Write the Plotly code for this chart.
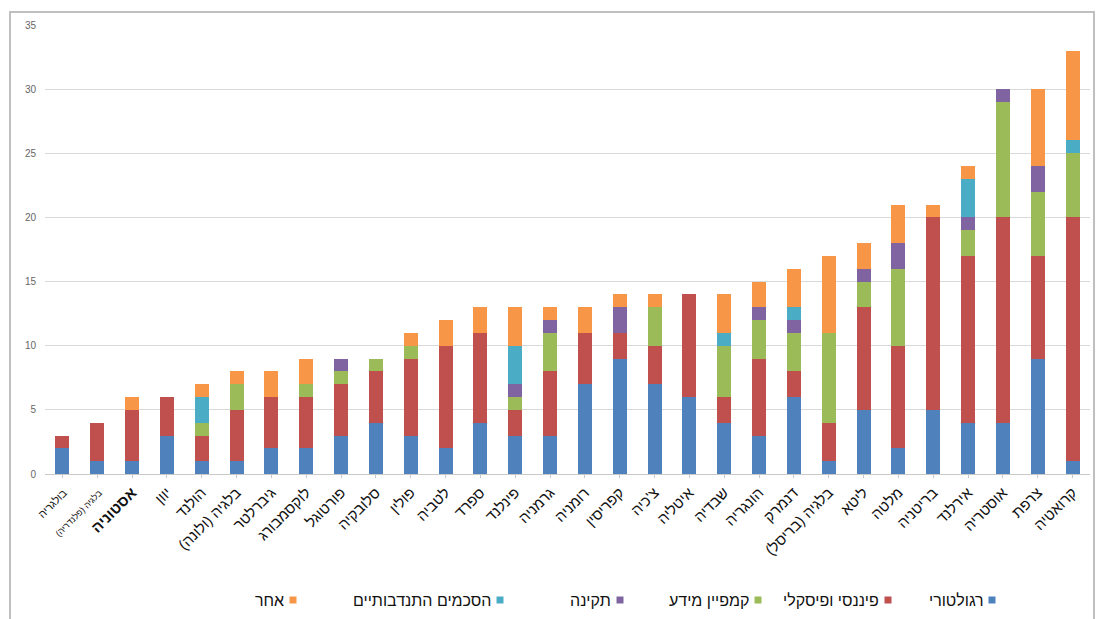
import plotly.graph_objects as go

countries = [
    "בולגריה", "בלגיה (פלנדריה)", "אסטוניה", "יוון", "הולנד", "בלגיה (ולונה)",
    "גיברלטר", "לוקסמבורג", "פורטוגל", "סלובקיה", "פולין", "לטביה", "ספרד",
    "פינלנד", "גרמניה", "רומניה", "קפריסין", "צ'כיה", "איטליה", "שבדיה",
    "הונגריה", "דנמרק", "בלגיה (בריסל)", "ליטא", "מלטה", "בריטניה", "אירלנד",
    "אוסטריה", "צרפת", "קרואטיה",
]

regulatory = [2, 1, 1, 3, 1, 1, 2, 2, 3, 4, 3, 2, 4, 3, 3, 7, 9, 7, 6, 4, 3, 6, 1, 5, 2, 5, 4, 4, 9, 1]
financial = [1, 3, 4, 3, 2, 4, 4, 4, 4, 4, 6, 8, 7, 2, 5, 4, 2, 3, 8, 2, 6, 2, 3, 8, 8, 15, 13, 16, 8, 19]
campaign = [0, 0, 0, 0, 1, 2, 0, 1, 1, 1, 1, 0, 0, 1, 3, 0, 0, 3, 0, 4, 3, 3, 7, 2, 6, 0, 2, 9, 5, 5]
standards = [0, 0, 0, 0, 0, 0, 0, 0, 1, 0, 0, 0, 0, 1, 1, 0, 2, 0, 0, 0, 1, 1, 0, 1, 2, 0, 1, 1, 2, 0]
voluntary = [0, 0, 0, 0, 2, 0, 0, 0, 0, 0, 0, 0, 0, 3, 0, 0, 0, 0, 0, 1, 0, 1, 0, 0, 0, 0, 3, 0, 0, 1]
other = [0, 0, 1, 0, 1, 1, 2, 2, 0, 0, 1, 2, 2, 3, 1, 2, 1, 1, 0, 3, 2, 3, 6, 2, 3, 1, 1, 0, 6, 7]

series_names = ["רגולטורי", "פיננסי ופיסקלי", "קמפיין מידע", "תקינה", "הסכמים התנדבותיים", "אחר"]
series_values = [regulatory, financial, campaign, standards, voluntary, other]
series_colors = ["#4F81BD", "#C0504D", "#9BBB59", "#8064A2", "#4BACC6", "#F79646"]

y_ticks = [0, 5, 10, 15, 20, 25, 30, 35]

# figure geometry (pixels) used to place the right-to-left legend
W, H = 1097, 619
ML, MR, MT, MB = 45, 7, 25, 145
PW, PH = W - ML - MR, H - MT - MB


def px_x(p):
    return (p - ML) / PW


def px_y(p):
    return (H - MB - p) / PH


# tick label styling: a few labels are set smaller / bolder
tick_text = []
for c in countries:
    if c == "בולגריה":
        tick_text.append(f"<span style='font-size:11px'>{c}</span>")
    elif c == "בלגיה (פלנדריה)":
        tick_text.append(f"<span style='font-size:9px'>{c}</span>")
    elif c == "אסטוניה":
        tick_text.append(f"<b>{c}</b>")
    else:
        tick_text.append(c)

fig = go.Figure()
for name, vals, color in zip(series_names, series_values, series_colors):
    fig.add_trace(go.Bar(
        x=countries, y=vals, name=name,
        marker=dict(color=color, line=dict(width=0)),
        showlegend=False,
    ))

# legend: text on the left of each swatch, read right to left
legend_swatch_px = [992, 888, 758, 620, 500, 293]
legend_y_px = 600
shapes = [dict(
    type="rect", xref="paper", yref="paper",
    x0=px_x(10), x1=px_x(1094), y0=px_y(640), y1=px_y(12),
    line=dict(color="#bfbfbf", width=2),
    fillcolor="rgba(0,0,0,0)", layer="below",
)]
annotations = []
for name, color, sx in zip(series_names, series_colors, legend_swatch_px):
    shapes.append(dict(
        type="rect", xref="paper", yref="paper",
        x0=px_x(sx - 3.5), x1=px_x(sx + 3.5),
        y0=px_y(legend_y_px + 3.5), y1=px_y(legend_y_px - 3.5),
        fillcolor=color, line=dict(width=0),
    ))
    annotations.append(dict(
        xref="paper", yref="paper",
        x=px_x(sx - 7), y=px_y(legend_y_px),
        xanchor="right", yanchor="middle",
        text=name, showarrow=False,
        font=dict(size=16, color="#111"),
    ))

fig.update_layout(
    barmode="stack",
    bargap=0.6,
    width=W, height=H,
    margin=dict(l=ML, r=MR, t=MT, b=MB),
    paper_bgcolor="white",
    plot_bgcolor="white",
    font=dict(family="Liberation Sans, Arial, sans-serif", color="#222"),
    xaxis=dict(
        tickmode="array",
        tickvals=countries,
        ticktext=tick_text,
        tickangle=-45,
        tickfont=dict(size=15, color="#111"),
        showgrid=False,
        showline=True, linecolor="#c8c8c8", linewidth=1,
        ticks="outside", ticklen=3, tickcolor="#c8c8c8",
    ),
    yaxis=dict(
        range=[0, 35],
        tickvals=y_ticks,
        tickfont=dict(size=10, color="#666"),
        ticklabelstandoff=8,
        showgrid=True, gridcolor="#d9d9d9", gridwidth=1,
        zeroline=False,
        ticks="", showline=False,
    ),
    shapes=shapes,
    annotations=annotations,
)

fig.write_html("out.html")
